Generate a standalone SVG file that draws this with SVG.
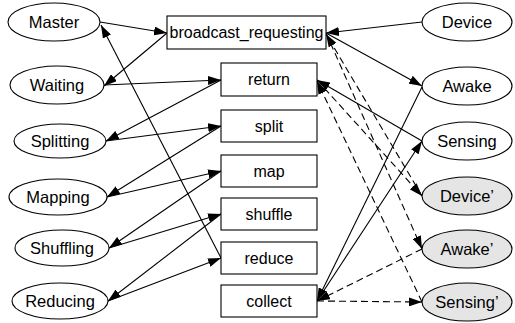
<svg xmlns="http://www.w3.org/2000/svg" width="515" height="323" viewBox="0 0 515 323">
<style>
  text { font-family: "Liberation Sans", Arial, sans-serif; font-size: 16px; fill: #000; text-anchor: middle; }
  .n ellipse + text { font-size: 16.5px; }
  .n ellipse, .n rect { fill: #fff; stroke: #000; stroke-width: 1.1; }
  .p ellipse { fill: #e5e5e5; }
  .e line { stroke: #000; stroke-width: 1.1; marker-end: url(#ah); }
  .e line.d { stroke-dasharray: 7,4; }
</style>
<defs>
  <marker id="ah" markerUnits="userSpaceOnUse" markerWidth="13" markerHeight="9" refX="13" refY="4.5" orient="auto">
    <path d="M0,0 L13,4.5 L0,9 z" fill="#000"/>
  </marker>
</defs>
<rect width="515" height="323" fill="#fff"/>
<g class="e" id="edges">
  <line x1="100" y1="22" x2="167" y2="33"/>
  <line x1="167" y1="33" x2="104" y2="86"/>
  <line x1="104" y1="85" x2="221" y2="80"/>
  <line x1="221" y1="80" x2="106" y2="141"/>
  <line x1="106" y1="141" x2="221" y2="126"/>
  <line x1="221" y1="126" x2="107" y2="197"/>
  <line x1="107" y1="197" x2="221" y2="171"/>
  <line x1="221" y1="171" x2="109" y2="248"/>
  <line x1="109" y1="248" x2="221" y2="214"/>
  <line x1="221" y1="214" x2="108" y2="301"/>
  <line x1="108" y1="301" x2="221" y2="258"/>
  <line x1="221" y1="258" x2="101" y2="25"/>
  <line x1="422" y1="22" x2="326" y2="33"/>
  <line x1="326" y1="33" x2="422" y2="86"/>
  <line x1="422" y1="87" x2="317" y2="301"/>
  <line x1="317" y1="301" x2="422" y2="141"/>
  <line x1="422" y1="141" x2="317" y2="80"/>
  <line class="d" x1="317" y1="80" x2="422" y2="196"/>
  <line class="d" x1="422" y1="196" x2="326" y2="34"/>
  <line class="d" x1="326" y1="33" x2="422" y2="249"/>
  <line class="d" x1="422" y1="249" x2="317" y2="301"/>
  <line class="d" x1="317" y1="301" x2="422" y2="302"/>
  <line class="d" x1="422" y1="302" x2="317" y2="81"/>
</g>
<g class="n" id="Master"><ellipse cx="54" cy="22" rx="46" ry="19"/><text x="54" y="28">Master</text></g>
<g class="n" id="Waiting"><ellipse cx="57" cy="85" rx="47" ry="19"/><text x="57" y="91">Waiting</text></g>
<g class="n" id="Splitting"><ellipse cx="60" cy="141" rx="46" ry="17"/><text x="60" y="147">Splitting</text></g>
<g class="n" id="Mapping"><ellipse cx="58" cy="197" rx="49" ry="18"/><text x="58" y="203">Mapping</text></g>
<g class="n" id="Shuffling"><ellipse cx="62" cy="248" rx="47" ry="18"/><text x="62" y="254">Shuffling</text></g>
<g class="n" id="Reducing"><ellipse cx="60" cy="301" rx="48" ry="18"/><text x="60" y="307">Reducing</text></g>
<g class="n" id="broadcast_requesting"><rect x="167" y="16" width="159" height="33"/><text x="246.5" y="38">broadcast_requesting</text></g>
<g class="n" id="return"><rect x="221" y="63" width="96" height="33"/><text x="269" y="85">return</text></g>
<g class="n" id="split"><rect x="221" y="110" width="96" height="32"/><text x="269" y="132">split</text></g>
<g class="n" id="map"><rect x="221" y="155" width="96" height="32"/><text x="269" y="177">map</text></g>
<g class="n" id="shuffle"><rect x="221" y="198" width="96" height="32"/><text x="269" y="220">shuffle</text></g>
<g class="n" id="reduce"><rect x="221" y="242" width="96" height="32"/><text x="269" y="264">reduce</text></g>
<g class="n" id="collect"><rect x="221" y="285" width="96" height="32"/><text x="269" y="307">collect</text></g>
<g class="n" id="Device"><ellipse cx="467" cy="22" rx="45" ry="19"/><text x="467" y="28">Device</text></g>
<g class="n" id="Awake"><ellipse cx="467" cy="86" rx="45" ry="19"/><text x="467" y="92">Awake</text></g>
<g class="n" id="Sensing"><ellipse cx="467" cy="141" rx="45" ry="19"/><text x="467" y="147">Sensing</text></g>
<g class="n p" id="Device_p"><ellipse cx="467" cy="196" rx="45" ry="19"/><text x="467" y="202">Device’</text></g>
<g class="n p" id="Awake_p"><ellipse cx="467" cy="249" rx="45" ry="19"/><text x="467" y="255">Awake’</text></g>
<g class="n p" id="Sensing_p"><ellipse cx="467" cy="302" rx="45" ry="19"/><text x="467" y="308">Sensing’</text></g>
</svg>
